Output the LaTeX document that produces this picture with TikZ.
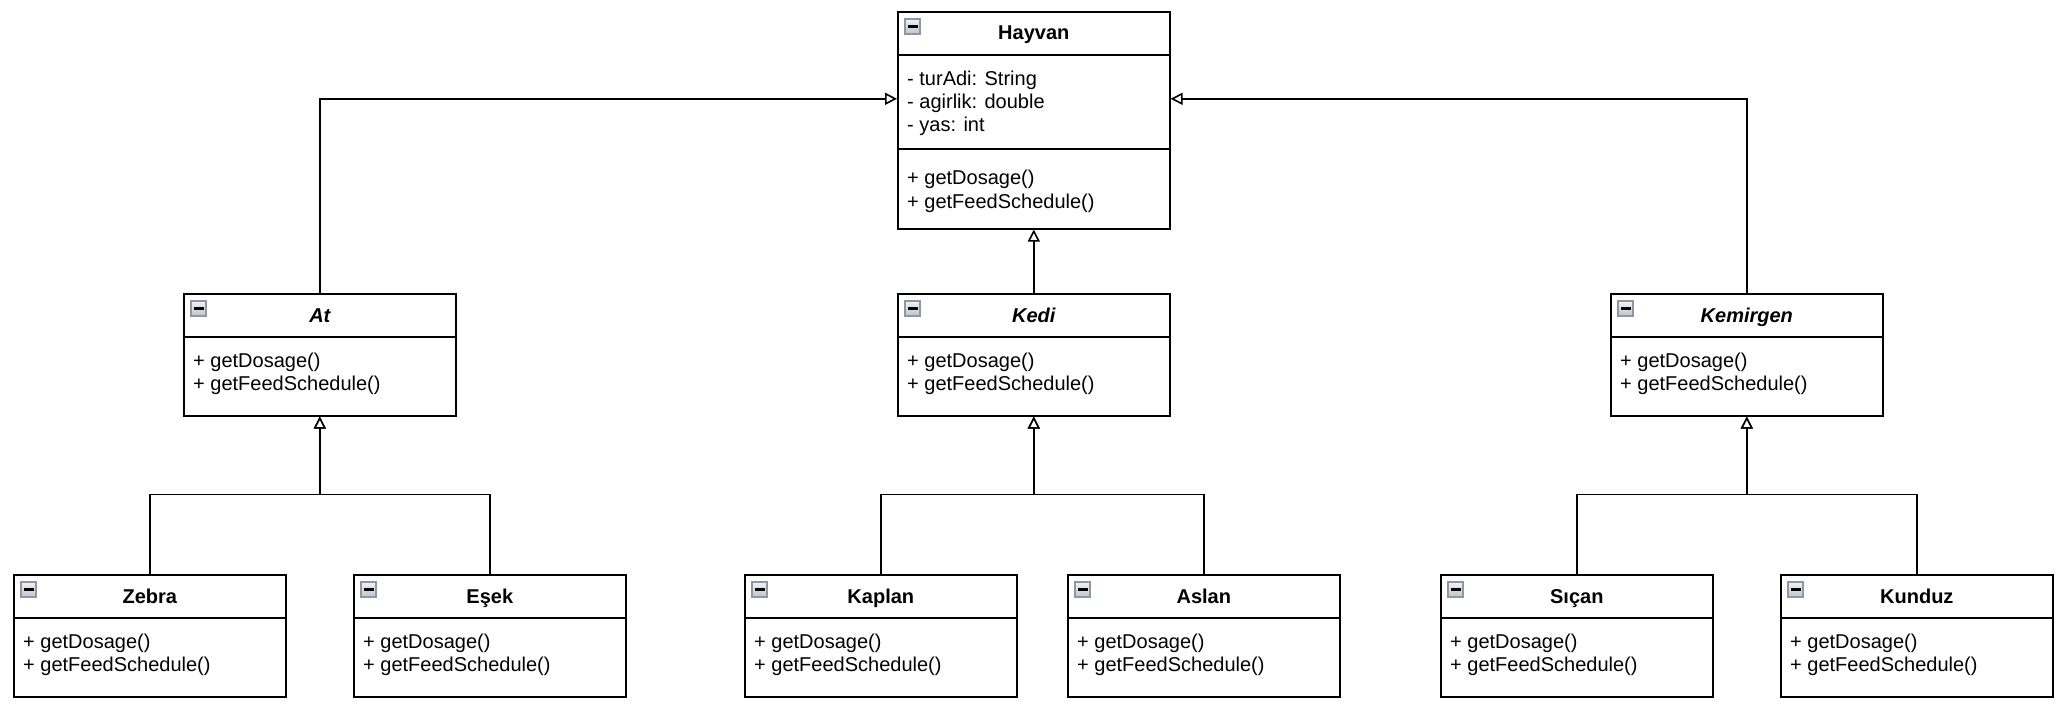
\documentclass[tikz,border=0pt]{standalone}
\usepackage{fontspec}
\setmainfont{Liberation Sans}
\usetikzlibrary{arrows.meta}
\definecolor{iconborder}{HTML}{8E97A6}
\definecolor{icontop}{HTML}{F2F2F2}
\definecolor{iconbot}{HTML}{BFC3C9}
\tikzset{
  clsbox/.style={draw=black, line width=1.6pt, fill=white, inner sep=0pt,
    minimum width=272pt, minimum height=122pt},
  hayvanbox/.style={clsbox, minimum height=217pt},
  sepline/.style={draw=black, line width=1.6pt},
  clstitle/.style={inner sep=0pt, anchor=base, font=\fontsize{20}{23}\selectfont\bfseries},
  member/.style={inner sep=0pt, anchor=base west, font=\fontsize{20}{23}\selectfont},
  inh/.style={draw=black, line width=1.6pt,
    -{Triangle[length=12pt, width=12pt, fill=white, line width=1.6pt]}},
  iconbox/.style={top color=icontop, bottom color=iconbot, draw=iconborder, line width=1.4pt},
}
\newcommand\clsicon[1]{%
  \shade[iconbox] ([xshift=8pt,yshift=-8pt]#1.north west) rectangle ([xshift=23pt,yshift=-23pt]#1.north west);
  \fill[black] ([xshift=10.5pt,yshift=-14pt]#1.north west) rectangle ([xshift=20.5pt,yshift=-17pt]#1.north west);
}
\newcommand\umlcls[5]{%
  \node[clsbox, anchor=north west] (#1) at (#2,#3) {};
  \draw[sepline] ([yshift=-44pt]#1.north west) -- ([yshift=-44pt]#1.north east);
  \node[clstitle] (#1-t) at ([yshift=-29pt]#1.north) {#5#4};
  \clsicon{#1}
  \node[member] (#1-m1) at ([xshift=10pt,yshift=-74pt]#1.north west) {+ getDosage()};
  \node[member] (#1-m2) at ([xshift=10pt,yshift=-97pt]#1.north west) {+ getFeedSchedule()};
}
\begin{document}
\begin{tikzpicture}[x=1pt,y=-1pt]
\useasboundingbox (0,0) rectangle (2068,714);
\fill[white] (0,0) rectangle (2068,714);

% Hayvan
\node[hayvanbox, anchor=north west] (hayvan) at (897,11) {};
\draw[sepline] ([yshift=-44pt]hayvan.north west) -- ([yshift=-44pt]hayvan.north east);
\draw[sepline] ([yshift=-138pt]hayvan.north west) -- ([yshift=-138pt]hayvan.north east);
\node[clstitle] (hayvan-t) at ([yshift=-29pt]hayvan.north) {Hayvan};
\clsicon{hayvan}
\node[member] (hayvan-a1) at ([xshift=10pt,yshift=-75pt]hayvan.north west) {- turAdi: String};
\node[member] (hayvan-a2) at ([xshift=10pt,yshift=-98pt]hayvan.north west) {- agirlik: double};
\node[member] (hayvan-a3) at ([xshift=10pt,yshift=-121pt]hayvan.north west) {- yas: int};
\node[member] (hayvan-m1) at ([xshift=10pt,yshift=-174pt]hayvan.north west) {+ getDosage()};
\node[member] (hayvan-m2) at ([xshift=10pt,yshift=-197pt]hayvan.north west) {+ getFeedSchedule()};

% middle level
\umlcls{at}{183}{293}{At}{\itshape}
\umlcls{kedi}{897}{293}{Kedi}{\itshape}
\umlcls{kemirgen}{1610}{293}{Kemirgen}{\itshape}

% bottom level
\umlcls{zebra}{13}{574}{Zebra}{}
\umlcls{esek}{353}{574}{Eşek}{}
\umlcls{kaplan}{744}{574}{Kaplan}{}
\umlcls{aslan}{1067}{574}{Aslan}{}
\umlcls{sican}{1440}{574}{Sıçan}{}
\umlcls{kunduz}{1780}{574}{Kunduz}{}

% inheritance
\draw[inh] (at.north) |- ([yshift=21.5pt]hayvan.west);
\draw[inh] (kemirgen.north) |- ([yshift=21.5pt]hayvan.east);
\draw[inh] (kedi.north) -- (hayvan.south);

\draw[inh] (zebra.north) -- ++(0,-79.5) -| (at.south);
\draw[inh] (esek.north) -- ++(0,-79.5) -| (at.south);
\draw[inh] (kaplan.north) -- ++(0,-79.5) -| (kedi.south);
\draw[inh] (aslan.north) -- ++(0,-79.5) -| (kedi.south);
\draw[inh] (sican.north) -- ++(0,-79.5) -| (kemirgen.south);
\draw[inh] (kunduz.north) -- ++(0,-79.5) -| (kemirgen.south);
\end{tikzpicture}
\end{document}
